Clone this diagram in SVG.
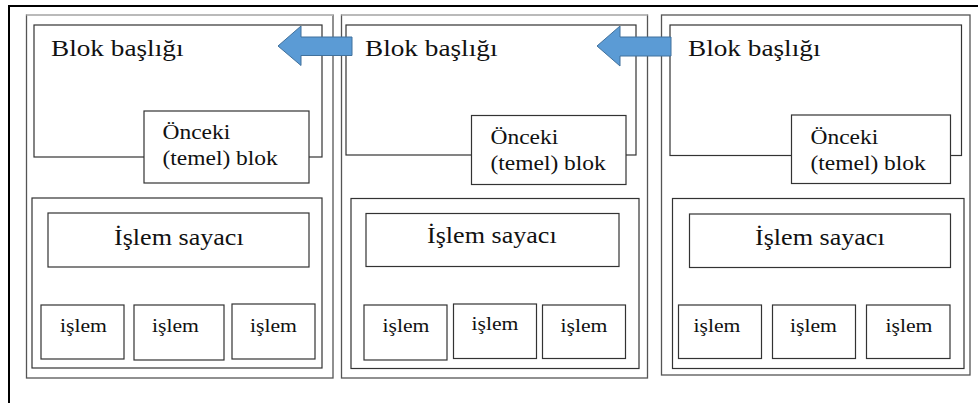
<svg xmlns="http://www.w3.org/2000/svg" width="978" height="403" viewBox="0 0 978 403">
  <style>
    .frame { fill: none; stroke: #000; stroke-width: 2; }
    .block { fill: #fff; stroke: #555; stroke-width: 1.3; }
    .lite { stroke: #c8c8c8; stroke-width: 1.3; }
    .box { fill: #fff; stroke: #333; stroke-width: 1.2; }
    .hdr { fill: none; stroke: #333; stroke-width: 1.2; }
    .arrow { fill: #5b9bd5; stroke: #41719c; stroke-width: 1; }
  </style>

  <rect width="978" height="403" fill="#fff"/>
  <!-- outer frame (top and left edges) -->
  <path class="frame" d="M9 403 V6 H978"/>

  <!-- block 1 -->
  <g id="block1" font-family="Liberation Serif, Times New Roman, serif" fill="#111">
    <rect class="block" x="26.5" y="15" width="306.5" height="363"/>
    <line class="lite" x1="26.5" y1="15" x2="333" y2="15"/>
    <rect class="hdr" x="34" y="25" width="288" height="132"/>
    <text font-size="23.5" transform="translate(51 56) scale(1.16 1)">Blok başlığı</text>
    <rect class="box" x="144" y="111" width="165" height="72"/>
    <text font-size="20.5" transform="translate(162.5 138.5) scale(1.145 1)">Önceki</text>
    <text font-size="20.5" transform="translate(162.5 165) scale(1.145 1)">(temel) blok</text>
    <rect class="hdr" x="32" y="198" width="290" height="170"/>
    <rect class="box" x="48" y="213" width="261" height="54"/>
    <text font-size="22.5" transform="translate(114 244.5) scale(1.16 1)">İşlem sayacı</text>
    <rect class="box" x="41" y="305" width="83" height="54"/>
    <rect class="box" x="134" y="305" width="90" height="55"/>
    <rect class="box" x="232" y="304" width="83" height="55"/>
    <text font-size="19.5" transform="translate(60 332) scale(1.11 1)">işlem</text>
    <text font-size="19.5" transform="translate(152 332) scale(1.11 1)">işlem</text>
    <text font-size="19.5" transform="translate(250 332) scale(1.11 1)">işlem</text>
  </g>

  <!-- block 2 -->
  <g id="block2" font-family="Liberation Serif, Times New Roman, serif" fill="#111">
    <rect class="block" x="341.5" y="15" width="306" height="363"/>
    <line class="lite" x1="341.5" y1="15" x2="647.5" y2="15"/>
    <rect class="hdr" x="346" y="25" width="290" height="130"/>
    <text font-size="23.5" transform="translate(365 56) scale(1.16 1)">Blok başlığı</text>
    <rect class="box" x="471.5" y="115.5" width="154.5" height="69"/>
    <text font-size="20.5" transform="translate(490.5 143.5) scale(1.145 1)">Önceki</text>
    <text font-size="20.5" transform="translate(490.5 170) scale(1.145 1)">(temel) blok</text>
    <rect class="hdr" x="351" y="198.5" width="288" height="170"/>
    <rect class="box" x="366" y="213.5" width="253" height="53"/>
    <text font-size="22.5" transform="translate(427 243) scale(1.16 1)">İşlem sayacı</text>
    <rect class="box" x="364" y="305" width="83" height="55"/>
    <rect class="box" x="453.5" y="304" width="83" height="54.5"/>
    <rect class="box" x="542.5" y="305" width="83" height="53.5"/>
    <text font-size="19.5" transform="translate(382.5 331.5) scale(1.11 1)">işlem</text>
    <text font-size="19.5" transform="translate(471.5 330) scale(1.11 1)">işlem</text>
    <text font-size="19.5" transform="translate(560.5 331.5) scale(1.11 1)">işlem</text>
  </g>

  <!-- block 3 -->
  <g id="block3" font-family="Liberation Serif, Times New Roman, serif" fill="#111">
    <rect class="block" x="661.5" y="15" width="308.5" height="360"/>
    <rect class="hdr" x="670" y="25" width="291.5" height="130.5"/>
    <text font-size="23.5" transform="translate(688 56) scale(1.16 1)">Blok başlığı</text>
    <rect class="box" x="791.5" y="115" width="159" height="68.5"/>
    <text font-size="20.5" transform="translate(810.5 143.5) scale(1.145 1)">Önceki</text>
    <text font-size="20.5" transform="translate(810.5 170) scale(1.145 1)">(temel) blok</text>
    <rect class="hdr" x="672.5" y="198.5" width="291.5" height="170"/>
    <rect class="box" x="689.5" y="214" width="261" height="53.5"/>
    <text font-size="22.5" transform="translate(755 245) scale(1.16 1)">İşlem sayacı</text>
    <rect class="box" x="678.5" y="305" width="83" height="53.5"/>
    <rect class="box" x="772.5" y="305" width="83" height="53.5"/>
    <rect class="box" x="866.5" y="305" width="83.5" height="53.5"/>
    <text font-size="19.5" transform="translate(693.5 331.5) scale(1.11 1)">işlem</text>
    <text font-size="19.5" transform="translate(790 331.5) scale(1.11 1)">işlem</text>
    <text font-size="19.5" transform="translate(885.5 331.5) scale(1.11 1)">işlem</text>
  </g>

  <!-- links between blocks -->
  <g id="connectors">
    <polygon class="arrow" points="278,46 301,26 301,37 352,37 352,55.5 301,55.5 301,65.5"/>
    <polygon class="arrow" points="597,46 620,26 620,37 671,37 671,56 620,56 620,66"/>
  </g>
</svg>
